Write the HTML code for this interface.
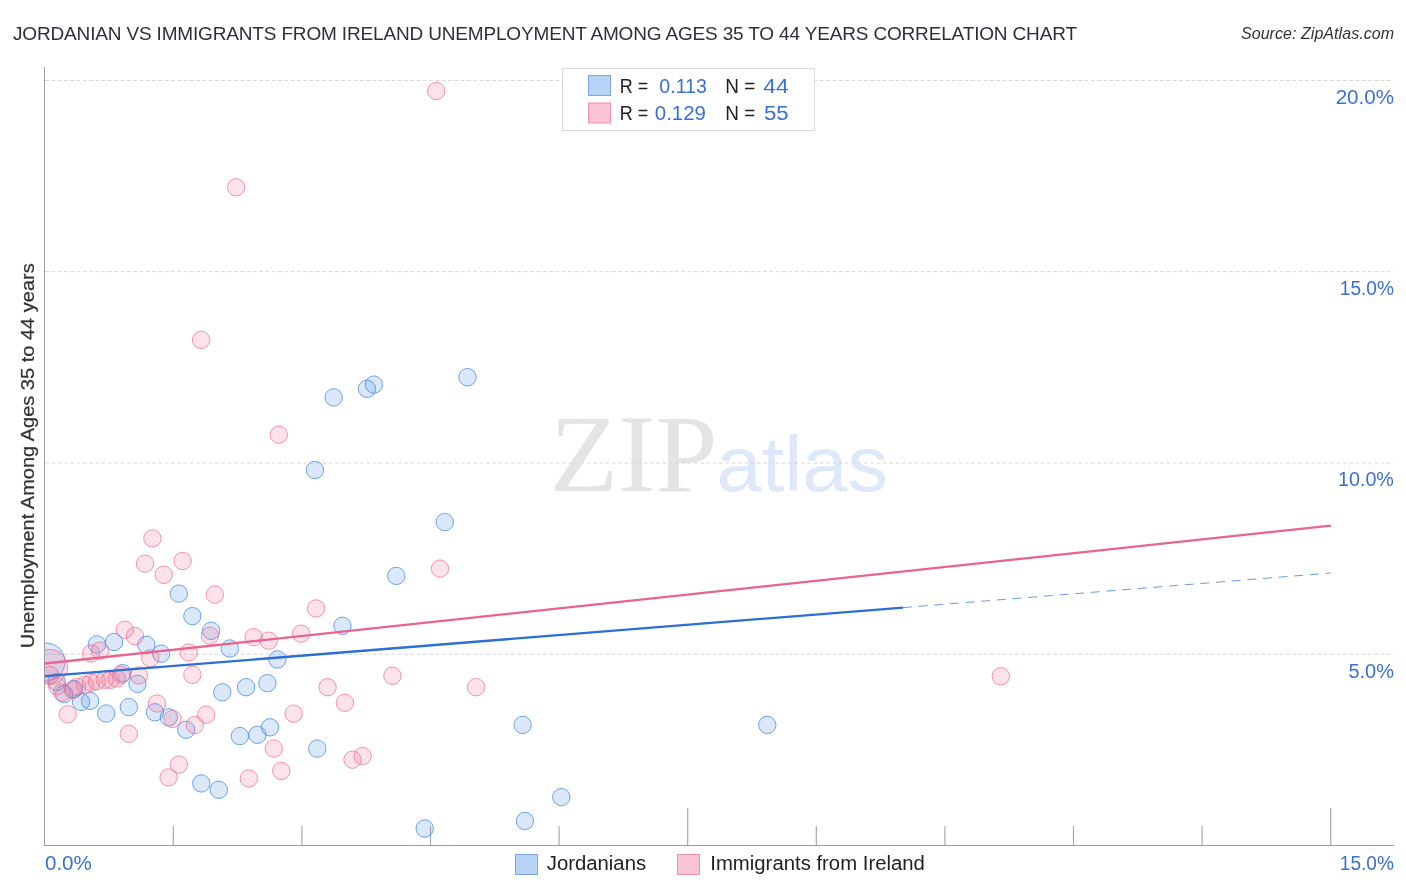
<!DOCTYPE html>
<html lang="en"><head><meta charset="utf-8"><title>Jordanian vs Immigrants from Ireland Unemployment Among Ages 35 to 44 years Correlation Chart</title>
<style>
html,body{margin:0;padding:0;background:#fff;}
body{width:1406px;height:892px;overflow:hidden;font-family:"Liberation Sans",sans-serif;}
svg{display:block;}
text{font-family:"Liberation Sans",sans-serif;}
.serif{font-family:"Liberation Serif",serif;}
</style></head><body>
<svg width="1406" height="892" viewBox="0 0 1406 892">
<defs><clipPath id="plot"><rect x="45" y="60" width="1300" height="785"/></clipPath></defs>
<rect width="1406" height="892" fill="#fff"/>
<!-- title -->
<text x="13" y="40" font-size="19" fill="#2f2f38" textLength="1064" lengthAdjust="spacing">JORDANIAN VS IMMIGRANTS FROM IRELAND UNEMPLOYMENT AMONG AGES 35 TO 44 YEARS CORRELATION CHART</text>
<text x="1241" y="38.6" font-size="16" font-style="italic" fill="#333" textLength="153" lengthAdjust="spacing">Source: ZipAtlas.com</text>
<!-- watermark -->
<text class="serif" x="550" y="490.5" font-size="111" fill="#e4e4e4" textLength="167.5" lengthAdjust="spacingAndGlyphs">ZIP</text>
<text x="716.5" y="490.5" font-size="78" fill="#dee8f8" textLength="171.5" lengthAdjust="spacingAndGlyphs">atlas</text>
<!-- grid -->
<g stroke="#d8d8d8" stroke-width="1" stroke-dasharray="3.8 2.5" fill="none">
<line x1="45" y1="80.5" x2="1394" y2="80.5"/>
<line x1="45" y1="271.6" x2="1394" y2="271.6"/>
<line x1="45" y1="463.0" x2="1394" y2="463.0"/>
<line x1="45" y1="654.3" x2="1394" y2="654.3"/>
</g>
<!-- axes -->
<g stroke="#9c9c9c" stroke-width="1" fill="none" shape-rendering="crispEdges">
<line x1="44.5" y1="67" x2="44.5" y2="846"/>
<line x1="44" y1="845.5" x2="1394" y2="845.5"/>
</g>
<g stroke="#a8a8a8" stroke-width="1.2" fill="none">
<line x1="173.3" y1="826" x2="173.3" y2="845"/>
<line x1="301.9" y1="826" x2="301.9" y2="845"/>
<line x1="430.5" y1="826" x2="430.5" y2="845"/>
<line x1="559.1" y1="826" x2="559.1" y2="845"/>
<line x1="687.7" y1="808" x2="687.7" y2="845"/>
<line x1="816.3" y1="826" x2="816.3" y2="845"/>
<line x1="944.9" y1="826" x2="944.9" y2="845"/>
<line x1="1073.5" y1="826" x2="1073.5" y2="845"/>
<line x1="1202.1" y1="826" x2="1202.1" y2="845"/>
<line x1="1330.7" y1="808" x2="1330.7" y2="845"/>
</g>
<!-- y tick labels -->
<text x="1335.70" y="103.9" font-size="19.5" fill="#3a70d4" textLength="58.30" lengthAdjust="spacingAndGlyphs" >20.0%</text>
<text x="1339.80" y="294.8" font-size="19.5" fill="#3a70d4" textLength="54.10" lengthAdjust="spacingAndGlyphs" >15.0%</text>
<text x="1338.00" y="485.9" font-size="19.5" fill="#3a70d4" textLength="55.90" lengthAdjust="spacingAndGlyphs" >10.0%</text>
<text x="1348.40" y="677.8" font-size="19.5" fill="#3a70d4" textLength="45.50" lengthAdjust="spacingAndGlyphs" >5.0%</text>
<text x="1339.80" y="869.9" font-size="19.5" fill="#3a70d4" textLength="54.10" lengthAdjust="spacingAndGlyphs" >15.0%</text>
<text x="44.95" y="869.9" font-size="19.5" fill="#3a70d4" textLength="46.90" lengthAdjust="spacingAndGlyphs" >0.0%</text>
<!-- y axis title -->
<text transform="translate(34.2,648.3) rotate(-90)" font-size="19" fill="#333" stroke="#333" stroke-width="0.25" textLength="385" lengthAdjust="spacingAndGlyphs">Unemployment Among Ages 35 to 44 years</text>
<!-- points -->
<g clip-path="url(#plot)">
<g fill="#4a8ee8" fill-opacity="0.2" stroke="#4a8ee8" stroke-opacity="0.8" stroke-width="1">
<circle cx="46" cy="662" r="19"/>
<circle cx="56.7" cy="682" r="8.7"/>
<circle cx="467.5" cy="377.2" r="8.7"/>
<circle cx="373.9" cy="384.6" r="8.7"/>
<circle cx="367.0" cy="388.8" r="8.7"/>
<circle cx="333.7" cy="397.4" r="8.7"/>
<circle cx="314.9" cy="470.0" r="8.7"/>
<circle cx="444.8" cy="522.1" r="8.7"/>
<circle cx="396.3" cy="575.9" r="8.7"/>
<circle cx="178.8" cy="593.6" r="8.7"/>
<circle cx="192.4" cy="616.1" r="8.7"/>
<circle cx="342.5" cy="625.8" r="8.7"/>
<circle cx="211.1" cy="630.8" r="8.7"/>
<circle cx="96.9" cy="644.4" r="8.7"/>
<circle cx="114.0" cy="642.0" r="8.7"/>
<circle cx="146.3" cy="644.8" r="8.7"/>
<circle cx="161.2" cy="653.7" r="8.7"/>
<circle cx="229.8" cy="648.5" r="8.7"/>
<circle cx="277.4" cy="659.5" r="8.7"/>
<circle cx="122.5" cy="673.1" r="8.7"/>
<circle cx="137.5" cy="683.8" r="8.7"/>
<circle cx="64.2" cy="694.0" r="8.7"/>
<circle cx="74.0" cy="689.0" r="8.7"/>
<circle cx="81.0" cy="701.9" r="8.7"/>
<circle cx="90.1" cy="700.9" r="8.7"/>
<circle cx="106.2" cy="713.5" r="8.7"/>
<circle cx="128.8" cy="707.1" r="8.7"/>
<circle cx="155.0" cy="712.3" r="8.7"/>
<circle cx="168.8" cy="717.3" r="8.7"/>
<circle cx="186.2" cy="729.8" r="8.7"/>
<circle cx="222.3" cy="692.3" r="8.7"/>
<circle cx="246.1" cy="687.2" r="8.7"/>
<circle cx="267.4" cy="683.2" r="8.7"/>
<circle cx="239.9" cy="736.1" r="8.7"/>
<circle cx="257.4" cy="734.8" r="8.7"/>
<circle cx="270.0" cy="727.3" r="8.7"/>
<circle cx="317.3" cy="748.6" r="8.7"/>
<circle cx="201.3" cy="783.4" r="8.7"/>
<circle cx="218.8" cy="789.8" r="8.7"/>
<circle cx="424.7" cy="828.5" r="8.7"/>
<circle cx="522.6" cy="724.9" r="8.7"/>
<circle cx="561.3" cy="797.1" r="8.7"/>
<circle cx="524.9" cy="821.0" r="8.7"/>
<circle cx="767.3" cy="724.9" r="8.7"/>
</g>
<g fill="#f06e93" fill-opacity="0.2" stroke="#ee6a90" stroke-opacity="0.7" stroke-width="1">
<circle cx="50" cy="667" r="17.5"/>
<circle cx="57" cy="686" r="8.7"/>
<circle cx="50" cy="675" r="8.7"/>
<circle cx="436.2" cy="91.0" r="8.7"/>
<circle cx="236.1" cy="187.3" r="8.7"/>
<circle cx="201.1" cy="339.9" r="8.7"/>
<circle cx="278.8" cy="434.7" r="8.7"/>
<circle cx="152.4" cy="538.4" r="8.7"/>
<circle cx="145.0" cy="563.7" r="8.7"/>
<circle cx="182.6" cy="561.0" r="8.7"/>
<circle cx="163.8" cy="574.8" r="8.7"/>
<circle cx="214.9" cy="594.7" r="8.7"/>
<circle cx="440.0" cy="568.6" r="8.7"/>
<circle cx="316.1" cy="608.5" r="8.7"/>
<circle cx="124.8" cy="629.8" r="8.7"/>
<circle cx="134.9" cy="636.0" r="8.7"/>
<circle cx="209.9" cy="635.7" r="8.7"/>
<circle cx="301.1" cy="633.7" r="8.7"/>
<circle cx="253.6" cy="637.1" r="8.7"/>
<circle cx="268.7" cy="640.7" r="8.7"/>
<circle cx="91.2" cy="653.5" r="8.7"/>
<circle cx="100.0" cy="650.6" r="8.7"/>
<circle cx="150.3" cy="658.1" r="8.7"/>
<circle cx="188.7" cy="652.5" r="8.7"/>
<circle cx="192.4" cy="674.8" r="8.7"/>
<circle cx="138.9" cy="675.5" r="8.7"/>
<circle cx="72.7" cy="689.8" r="8.7"/>
<circle cx="77" cy="686.9" r="8.7"/>
<circle cx="84.8" cy="684.8" r="8.7"/>
<circle cx="91.2" cy="682.6" r="8.7"/>
<circle cx="96.9" cy="681.2" r="8.7"/>
<circle cx="104.7" cy="679.8" r="8.7"/>
<circle cx="110.4" cy="679.8" r="8.7"/>
<circle cx="116.8" cy="678.4" r="8.7"/>
<circle cx="121.1" cy="674.8" r="8.7"/>
<circle cx="62" cy="692.6" r="8.7"/>
<circle cx="67.7" cy="714.4" r="8.7"/>
<circle cx="128.8" cy="733.8" r="8.7"/>
<circle cx="157.0" cy="703.5" r="8.7"/>
<circle cx="172.6" cy="718.9" r="8.7"/>
<circle cx="194.9" cy="725.0" r="8.7"/>
<circle cx="206.2" cy="714.7" r="8.7"/>
<circle cx="293.7" cy="713.7" r="8.7"/>
<circle cx="344.9" cy="702.8" r="8.7"/>
<circle cx="273.8" cy="748.6" r="8.7"/>
<circle cx="352.5" cy="759.7" r="8.7"/>
<circle cx="362.6" cy="756.1" r="8.7"/>
<circle cx="178.9" cy="764.6" r="8.7"/>
<circle cx="168.6" cy="777.4" r="8.7"/>
<circle cx="248.8" cy="778.5" r="8.7"/>
<circle cx="281.3" cy="771.0" r="8.7"/>
<circle cx="392.4" cy="675.8" r="8.7"/>
<circle cx="476.1" cy="687.2" r="8.7"/>
<circle cx="327.6" cy="687.2" r="8.7"/>
<circle cx="1000.8" cy="676.3" r="8.7"/>
</g>
</g>
<!-- regression lines -->
<g clip-path="url(#plot)">
<line x1="45" y1="676.2" x2="903" y2="607.6" stroke="#2d6fd3" stroke-width="2.3"/>
<line x1="903" y1="607.6" x2="1331" y2="573" stroke="#5a8fdc" stroke-width="0.9" stroke-dasharray="9 6.7"/>
<line x1="45" y1="663.5" x2="1331" y2="525.6" stroke="#e8638d" stroke-width="2.3"/>
</g>
<!-- stats legend -->
<rect x="562.5" y="68.5" width="252" height="62" fill="#fff" stroke="#d9d9d9" stroke-width="1"/>
<rect x="588.5" y="75.5" width="22" height="20" fill="#b9d3f6" stroke="#79a8ea" stroke-width="1"/>
<rect x="588.5" y="103" width="22" height="20" fill="#f9c5d5" stroke="#f091ad" stroke-width="1"/>
<text x="619.70" y="92.8" font-size="19.5" fill="#222" textLength="28.50" lengthAdjust="spacingAndGlyphs" >R =</text>
<text x="659.30" y="92.8" font-size="19.5" fill="#3a70d4" textLength="47.60" lengthAdjust="spacingAndGlyphs" >0.113</text>
<text x="725.30" y="92.8" font-size="19.5" fill="#222" textLength="30.00" lengthAdjust="spacingAndGlyphs" >N =</text>
<text x="763.20" y="92.8" font-size="19.5" fill="#3a70d4" textLength="25.40" lengthAdjust="spacingAndGlyphs" >44</text>
<text x="619.70" y="120.1" font-size="19.5" fill="#222" textLength="28.50" lengthAdjust="spacingAndGlyphs" >R =</text>
<text x="654.80" y="120.1" font-size="19.5" fill="#3a70d4" textLength="51.10" lengthAdjust="spacingAndGlyphs" >0.129</text>
<text x="725.30" y="120.1" font-size="19.5" fill="#222" textLength="30.00" lengthAdjust="spacingAndGlyphs" >N =</text>
<text x="763.90" y="120.1" font-size="19.5" fill="#3a70d4" textLength="24.70" lengthAdjust="spacingAndGlyphs" >55</text>
<!-- series legend -->
<rect x="515.5" y="854.5" width="22" height="20" fill="#b9d3f6" stroke="#79a8ea" stroke-width="1"/>
<text x="546.8" y="870.4" font-size="19.5" fill="#222" textLength="99.3" lengthAdjust="spacingAndGlyphs">Jordanians</text>
<rect x="677.5" y="854.5" width="22" height="20" fill="#f9c5d5" stroke="#f091ad" stroke-width="1"/>
<text x="710.3" y="870.4" font-size="19.5" fill="#222" textLength="214.6" lengthAdjust="spacingAndGlyphs">Immigrants from Ireland</text>
</svg>
</body></html>
